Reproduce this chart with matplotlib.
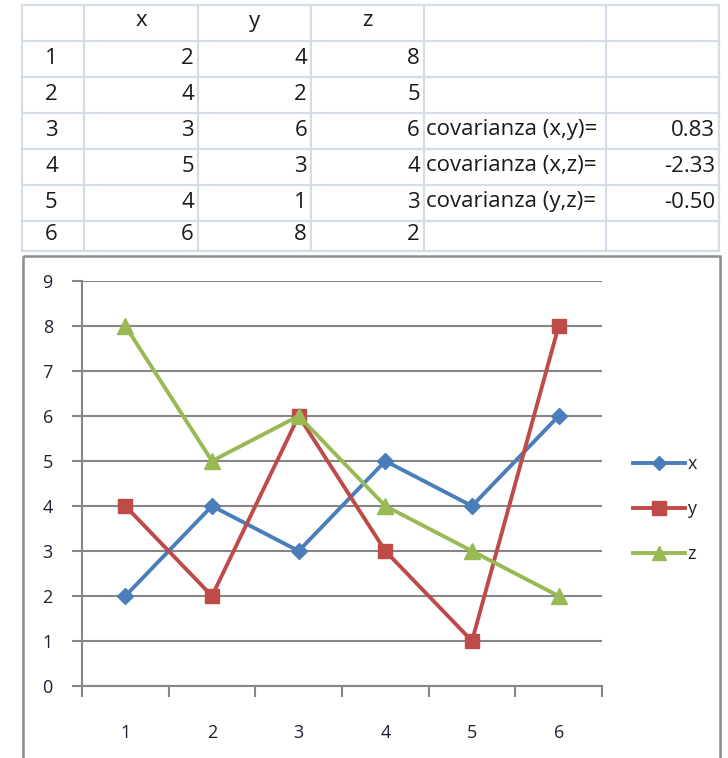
import numpy as np
import matplotlib.pyplot as plt
from matplotlib.patches import Rectangle
from matplotlib.lines import Line2D

plt.rcParams['font.family'] = ['Open Sans', 'DejaVu Sans']

# datos de la hoja
filas = [1, 2, 3, 4, 5, 6]
x = [2, 4, 3, 5, 4, 6]
y = [4, 2, 6, 3, 1, 8]
z = [8, 5, 6, 4, 3, 2]
etiquetas_cov = ['covarianza (x,y)=', 'covarianza (x,z)=', 'covarianza (y,z)=']
valores_cov = [0.83, -2.33, -0.50]
filas_cov = [3, 4, 5]

W, H = 728, 758
fig = plt.figure(figsize=(W / 100, H / 100), dpi=100)

# capa de fondo en pixeles (origen arriba a la izquierda)
bg = fig.add_axes([0, 0, 1, 1])
bg.set_xlim(0, W)
bg.set_ylim(H, 0)
bg.axis('off')

# --- tabla ---
col_x = [22, 84, 198, 311, 424, 606, 719]
row_y = [5, 41, 77, 113, 149, 185, 221, 251]
grid_c = '#d5dce8'
for cx in col_x:
    bg.plot([cx, cx], [row_y[0], row_y[-1]], color=grid_c, lw=1.6)
for ry in row_y:
    bg.plot([col_x[0], col_x[-1]], [ry, ry], color=grid_c, lw=1.6)

fs = 16
tc = '#1a1a1a'
def mid(i):
    return (row_y[i] + row_y[i + 1]) / 2

for j, h in enumerate(['x', 'y', 'z']):
    bg.text((col_x[j + 1] + col_x[j + 2]) / 2, mid(0) - 2, h, ha='center', va='center', fontsize=fs, color=tc)
for i, n in enumerate(filas):
    yy = mid(i + 1) - 1
    bg.text(col_x[0] + 23, yy, str(n), ha='left', va='center', fontsize=fs, color=tc)
    for j, serie in enumerate([x, y, z]):
        bg.text(col_x[j + 2] - 4, yy, str(serie[i]), ha='right', va='center', fontsize=fs, color=tc)
for lab, val, f in zip(etiquetas_cov, valores_cov, filas_cov):
    yy = mid(f) - 1
    bg.text(col_x[4] + 2, yy, lab, ha='left', va='center', fontsize=fs, color=tc)
    bg.text(col_x[6] - 4, yy, '{:.2f}'.format(val), ha='right', va='center', fontsize=fs, color=tc)

# marco del grafico
bg.add_patch(Rectangle((23, 256), 697, 520, fill=False, ec='#8c8c8c', lw=1.8))

# --- grafico de lineas ---
ax = fig.add_axes([82 / W, (H - 686) / H, (602 - 82) / W, (686 - 281) / H])
ax.set_xlim(0.5, 6.5)
ax.set_ylim(0, 9)
ax.set_yticks(range(0, 10))
ax.set_xticks(filas)
ax.set_xticks(np.arange(0.5, 7, 1), minor=True)
lc = '#1f2033'
ax.tick_params(axis='x', which='major', length=0, pad=27, labelsize=13, labelcolor=lc)
ax.tick_params(axis='x', which='minor', length=8, direction='out', color='#868686', width=1.5)
ax.tick_params(axis='y', length=7, direction='out', color='#868686', width=1.5, pad=14,
               labelsize=13, labelcolor=lc)
ax.grid(axis='y', color='#868686', lw=1.5)
ax.set_axisbelow(True)
for s in ['top', 'right']:
    ax.spines[s].set_visible(False)
for s in ['left', 'bottom']:
    ax.spines[s].set_color('#868686')
    ax.spines[s].set_linewidth(1.5)

cores = {'x': '#4a7ebb', 'y': '#be4b48', 'z': '#98b954'}
ax.plot(filas, x, color=cores['x'], lw=2.8, marker='D', ms=8.5, label='x', clip_on=False)
ax.plot(filas, y, color=cores['y'], lw=2.8, marker='s', ms=10.5, label='y', clip_on=False)
ax.plot(filas, z, color=cores['z'], lw=2.8, marker='^', ms=11.5, label='z', clip_on=False)

# leyenda a la derecha
handles = [Line2D([], [], color=cores['x'], lw=2.8, marker='D', ms=7.5),
           Line2D([], [], color=cores['y'], lw=2.8, marker='s', ms=9.5),
           Line2D([], [], color=cores['z'], lw=2.8, marker='^', ms=10)]
fig.legend(handles, ['x', 'y', 'z'], loc='center left', bbox_to_anchor=(624 / W, (H - 509) / H),
           frameon=False, fontsize=13, handlelength=2.9, handletextpad=0.1, labelspacing=1.5,
           borderpad=0, labelcolor=lc)

plt.savefig('out.png', dpi=100)
